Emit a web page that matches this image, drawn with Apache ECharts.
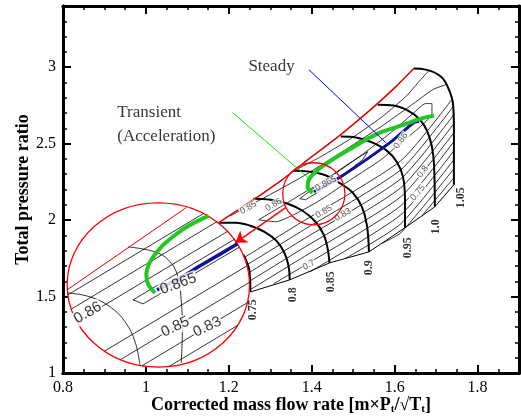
<!DOCTYPE html>
<html>
<head>
<meta charset="utf-8"/>
<title>Compressor map</title>
<script src="https://cdn.jsdelivr.net/npm/echarts/dist/echarts.min.js"></script>
<style>
    html, body { margin: 0; padding: 0; background: #fff; }
    #main { width: 521px; height: 419px; }
</style>
</head>
<body>
<div id="main"></div>
<script>
    // tick labels
    var xTickLabels = ['0.8', '1', '1.2', '1.4', '1.6', '1.8'];
    var yTickLabels = ['1', '1.5', '2', '2.5', '3'];

    // surge line and speed lines [mass flow, pressure ratio]
    var surgeLine = [[1.172,1.976],[1.252,2.120],[1.325,2.257],[1.397,2.408],[1.470,2.559],[1.542,2.722],[1.603,2.873],[1.646,2.991]];
    var speed105 = [[1.646,2.991],[1.675,2.984],[1.712,2.938],[1.731,2.853],[1.741,2.755],[1.743,2.591],[1.743,2.231]];
    var speed100 = [[1.559,2.755],[1.598,2.749],[1.632,2.716],[1.659,2.663],[1.678,2.585],[1.690,2.480],[1.695,2.362],[1.697,2.087]];
    var speed095 = [[1.470,2.546],[1.509,2.539],[1.547,2.506],[1.581,2.454],[1.605,2.382],[1.620,2.284],[1.625,2.133],[1.625,1.950]];
    var speed090 = [[1.356,2.323],[1.397,2.316],[1.436,2.290],[1.470,2.238],[1.499,2.179],[1.521,2.087],[1.533,1.969],[1.538,1.792]];
    var speed085 = [[1.259,2.140],[1.301,2.133],[1.342,2.107],[1.378,2.061],[1.409,1.989],[1.429,1.904],[1.438,1.819],[1.443,1.720]];
    var speed080 = [[1.172,1.982],[1.216,1.982],[1.252,1.963],[1.286,1.923],[1.315,1.864],[1.334,1.786],[1.344,1.701],[1.347,1.609]];
    var speed075 = [[1.235,1.773],[1.250,1.661],[1.252,1.530]];
    var chokeLine = [[1.252,1.530],[1.347,1.609],[1.443,1.720],[1.538,1.792],[1.625,1.950],[1.697,2.087],[1.743,2.231]];

    // efficiency contours
    var effUpper = [
        [[1.349,2.310],[1.422,2.415],[1.494,2.532],[1.567,2.670],[1.627,2.808],[1.663,2.919],[1.683,2.978]],
        [[1.204,2.028],[1.281,2.140],[1.373,2.277],[1.470,2.441],[1.567,2.611],[1.639,2.749],[1.692,2.853],[1.724,2.886]]
    ];
    var eff086 = [[1.272,2.002],[1.325,2.087],[1.373,2.166],[1.446,2.284],[1.518,2.421],[1.591,2.572],[1.644,2.696],[1.675,2.762],[1.690,2.762],[1.690,2.696],[1.659,2.604],[1.615,2.506],[1.567,2.395],[1.494,2.264],[1.422,2.133],[1.361,2.041],[1.313,1.989],[1.272,2.002]];
    var eff0865 = [[1.371,2.140],[1.422,2.244],[1.482,2.356],[1.535,2.447],[1.523,2.395],[1.470,2.284],[1.417,2.185],[1.385,2.133],[1.371,2.140]];
    var effLower = [
        [[1.216,1.720],[1.373,1.982],[1.615,2.388],[1.738,2.788]],
        [[1.216,1.661],[1.373,1.923],[1.615,2.329],[1.743,2.749]],
        [[1.216,1.602],[1.373,1.864],[1.615,2.270],[1.743,2.690]],
        [[1.216,1.544],[1.373,1.806],[1.615,2.212],[1.743,2.631]],
        [[1.247,1.537],[1.373,1.747],[1.615,2.153],[1.743,2.572]],
        [[1.308,1.583],[1.373,1.688],[1.615,2.094],[1.743,2.513]],
        [[1.395,1.661],[1.615,2.035],[1.743,2.454]],
        [[1.480,1.747],[1.615,1.976],[1.743,2.395]],
        [[1.567,1.845],[1.615,1.917],[1.743,2.336]],
        [[1.668,2.035],[1.743,2.277]]
    ];

    // operating lines
    var steadyLine = [[1.405,2.185],[1.470,2.284],[1.542,2.415],[1.598,2.526],[1.646,2.637],[1.659,2.644]];
    var transientLine = [[1.402,2.179],[1.390,2.218],[1.393,2.264],[1.412,2.323],[1.453,2.401],[1.494,2.467],[1.559,2.565],[1.622,2.624],[1.663,2.663],[1.695,2.683]];

    // magnified view (inside the big circle)
    var zoomSurge = [[0.810,1.544],[1.097,2.081]];
    var zoomEff = [
        [[0.811,1.510],[1.139,2.043]],
        [[0.820,1.418],[1.171,1.989]],
        [[0.833,1.335],[1.197,1.926]],
        [[1.213,1.874],[0.969,1.478],[0.993,1.452],[1.225,1.822]],
        [[0.900,1.143],[1.244,1.701]],
        [[0.939,1.088],[1.250,1.593]],
        [[0.991,1.048],[1.245,1.460]],
        [[1.056,1.043],[1.221,1.311]]
    ];
    var zoomSpeed = [
        [[0.957,1.825],[1.022,1.792],[1.054,1.740],[1.076,1.642],[1.085,1.478],[1.088,1.282],[1.085,1.065]],
        [[0.812,1.524],[0.865,1.498],[0.914,1.432],[0.950,1.334],[0.974,1.203],[0.986,1.046]]
    ];
    var zoomSteady = [[1.027,1.544],[1.083,1.622],[1.131,1.701],[1.180,1.779],[1.221,1.845]];
    var zoomTransient = [[1.151,2.028],[1.107,1.969],[1.071,1.904],[1.035,1.819],[1.010,1.727],[1.001,1.642],[1.006,1.576],[1.022,1.524]];

    // circles [cx, cy, rx, ry] and arrow / leaders
    var smallCircle = [[1.405,2.172,0.075,0.203]];
    var bigCircle = [[1.030,1.576,0.220,0.537]];
    var zoomArrow = [[1.337,2.081],[1.216,1.851]];
    var steadyLeader = [[1.393,2.984],[1.579,2.506]];
    var transientLeader = [[1.209,2.703],[1.397,2.264]];

    // labels [x, y, text, rotate]
    var effLabels = [
        [1.247,2.081,'0.85',30],[1.308,2.100,'0.86',30],[1.434,2.238,'0.865',28],
        [1.429,2.054,'0.85',30],[1.475,2.035,'0.83',30],[1.615,2.519,'0.86',55],
        [1.668,2.316,'0.8',52],[1.656,2.179,'0.75',50],[1.393,1.707,'0.7',28]
    ];
    var speedLabels = [
        [1.257,1.413,'0.75'],[1.354,1.511,'0.8'],[1.446,1.596,'0.85'],[1.538,1.688,'0.9'],
        [1.632,1.819,'0.95'],[1.700,1.956,'1.0'],[1.760,2.146,'1.05']
    ];
    var zoomLabels = [
        [1.078,1.583,'0.865',20],[0.860,1.393,'0.86',30],[1.071,1.301,'0.85',25],[1.148,1.301,'0.83',25]
    ];

    function poly(data, color, width, z, smooth) {
        return {
            type: 'line', data: data, symbol: 'none', silent: true, z: z,
            smooth: smooth || 0, lineStyle: { color: color, width: width }
        };
    }

    function ellipse(data, fill, z) {
        return {
            type: 'custom', data: data, z: z, silent: true,
            renderItem: function (params, api) {
                var c = api.coord([api.value(0), api.value(1)]);
                var s = api.size([api.value(2), api.value(3)]);
                return {
                    type: 'ellipse',
                    shape: { cx: c[0], cy: c[1], rx: s[0], ry: s[1] },
                    style: { fill: fill, stroke: '#ff0000', lineWidth: 1.3 }
                };
            }
        };
    }

    function labels(list, style, z) {
        return {
            type: 'scatter', symbolSize: 0, silent: true, z: z,
            data: list.map(function (d) {
                return { value: [d[0], d[1]], label: { formatter: d[2], rotate: d[3] || 0 } };
            }),
            label: Object.assign({ show: true, position: 'inside' }, style)
        };
    }

    var series = [];
    effUpper.concat(effLower).forEach(function (l) { series.push(poly(l, '#000', 0.8, 2, 0.2)); });
    series.push(poly(eff086, '#000', 0.8, 2, 0.2));
    series.push(poly(eff0865, '#000', 0.8, 2, 0));
    [speed105, speed100, speed095, speed090, speed085, speed080, speed075].forEach(function (l) {
        series.push(poly(l, '#000', 2, 2, 0.4));
    });
    series.push(poly(chokeLine, '#000', 1, 2, 0));
    series.push(poly(surgeLine, '#e00000', 1.5, 2, 0.3));
    series.push(labels(effLabels, { fontSize: 9, color: '#333', fontFamily: 'Liberation Sans', backgroundColor: '#fff', padding: [0, 1] }, 3));
    series.push(poly(steadyLine, '#1010a0', 3, 3, 0.3));
    series.push(poly(transientLine, '#22c822', 4, 3, 0.4));
    series.push(labels(speedLabels.map(function (d) { return [d[0], d[1], d[2], 90]; }),
        { fontSize: 12, fontWeight: 'bold', color: '#000', fontFamily: 'Liberation Serif' }, 3));
    series.push(ellipse(smallCircle, 'rgba(0,0,0,0)', 4));
    series.push(poly(steadyLeader, '#0000ff', 1, 3, 0));
    series.push(poly(transientLeader, '#00ee00', 1, 3, 0));

    // magnified view
    series.push(ellipse(bigCircle, '#fff', 5));
    zoomEff.forEach(function (l) { series.push(poly(l, '#000', 0.8, 6, 0)); });
    zoomSpeed.forEach(function (l) { series.push(poly(l, '#000', 0.8, 6, 0.4)); });
    series.push(poly(zoomSurge, '#e00000', 1, 6, 0));
    series.push(labels(zoomLabels, { fontSize: 15, color: '#000', fontFamily: 'Liberation Sans', backgroundColor: '#fff', padding: [0, 1] }, 7));
    series.push(poly(zoomSteady, '#1010a0', 3.5, 7, 0.3));
    series.push(poly(zoomTransient, '#22c822', 4, 7, 0.4));
    series.push({
        type: 'lines', coordinateSystem: 'cartesian2d', silent: true, z: 8,
        symbol: ['none', 'arrow'], symbolSize: 11,
        lineStyle: { color: '#ff0000', width: 1.5, opacity: 1 },
        data: [{ coords: zoomArrow }]
    });
    series.push(labels([[1.303, 3.004, 'Steady'], [0.931, 2.624, 'Transient\n(Acceleration)']],
        { fontSize: 17, color: '#000', fontFamily: 'Liberation Serif', align: 'left', lineHeight: 24 }, 8));
    // centre "Steady" on its point
    series[series.length - 1].data[0].label.align = 'center';

    function fmt(list) {
        return function (v) {
            var s = String(Math.round(v * 100) / 100);
            return list.indexOf(s) >= 0 ? s : '';
        };
    }

    function xAx(pos, interval, len, width, withLabel) {
        return {
            type: 'value', position: pos, min: 0.8, max: 1.9, interval: interval,
            axisLine: { show: withLabel !== null, lineStyle: { color: '#000', width: 3 } },
            axisTick: { inside: true, length: len, lineStyle: { color: '#000', width: width } },
            axisLabel: withLabel ? { show: true, margin: 7, fontSize: 16, color: '#000', fontFamily: 'Liberation Serif', formatter: fmt(xTickLabels) } : { show: false },
            splitLine: { show: false }
        };
    }

    function yAx(pos, interval, len, width, withLabel) {
        return {
            type: 'value', position: pos, min: 1, max: 3.4, interval: interval,
            axisLine: { show: withLabel !== null, lineStyle: { color: '#000', width: 3 } },
            axisTick: { inside: true, length: len, lineStyle: { color: '#000', width: width } },
            axisLabel: withLabel ? { show: true, margin: 7, fontSize: 16, color: '#000', fontFamily: 'Liberation Serif', formatter: fmt(yTickLabels) } : { show: false },
            splitLine: { show: false }
        };
    }

    var xMain = xAx('bottom', 0.2, 8, 2, true);
    xMain.name = '{a|Corrected mass flow rate [m×P}{s|t}{a|/√T}{s|t}{a|]}';
    xMain.nameLocation = 'middle';
    xMain.nameGap = 22;
    xMain.nameMoveOverlap = false;
    xMain.nameTextStyle = {
        color: '#000',
        rich: {
            a: { fontSize: 18, fontWeight: 'bold', fontFamily: 'Liberation Serif', color: '#000' },
            s: { fontSize: 11, fontWeight: 'bold', fontFamily: 'Liberation Serif', color: '#000', padding: [9, 0, 0, 0] }
        }
    };
    var yMain = yAx('left', 0.5, 8, 2, true);
    yMain.name = 'Total pressure ratio';
    yMain.nameLocation = 'middle';
    yMain.nameGap = 31;
    yMain.nameMoveOverlap = false;
    yMain.nameTextStyle = { fontSize: 18, fontWeight: 'bold', fontFamily: 'Liberation Serif', color: '#000' };

    var myChart = echarts.init(document.getElementById('main'));
    var option = {
        animation: false,
        grid: { left: 63, right: 2, top: 6, bottom: 46, containLabel: false, outerBoundsMode: 'none' },
        xAxis: [xMain, xAx('top', 0.2, 8, 2, false), xAx('bottom', 0.05, 4, 1.5, false), xAx('top', 0.05, 4, 1.5, false)],
        yAxis: [yMain, yAx('right', 0.5, 8, 2, false), yAx('left', 0.1, 4, 1.5, false), yAx('right', 0.1, 4, 1.5, false)],
        series: series
    };
    myChart.setOption(option);

    window.onresize = function () {
        myChart.resize();
    };
</script>
</body>
</html>
